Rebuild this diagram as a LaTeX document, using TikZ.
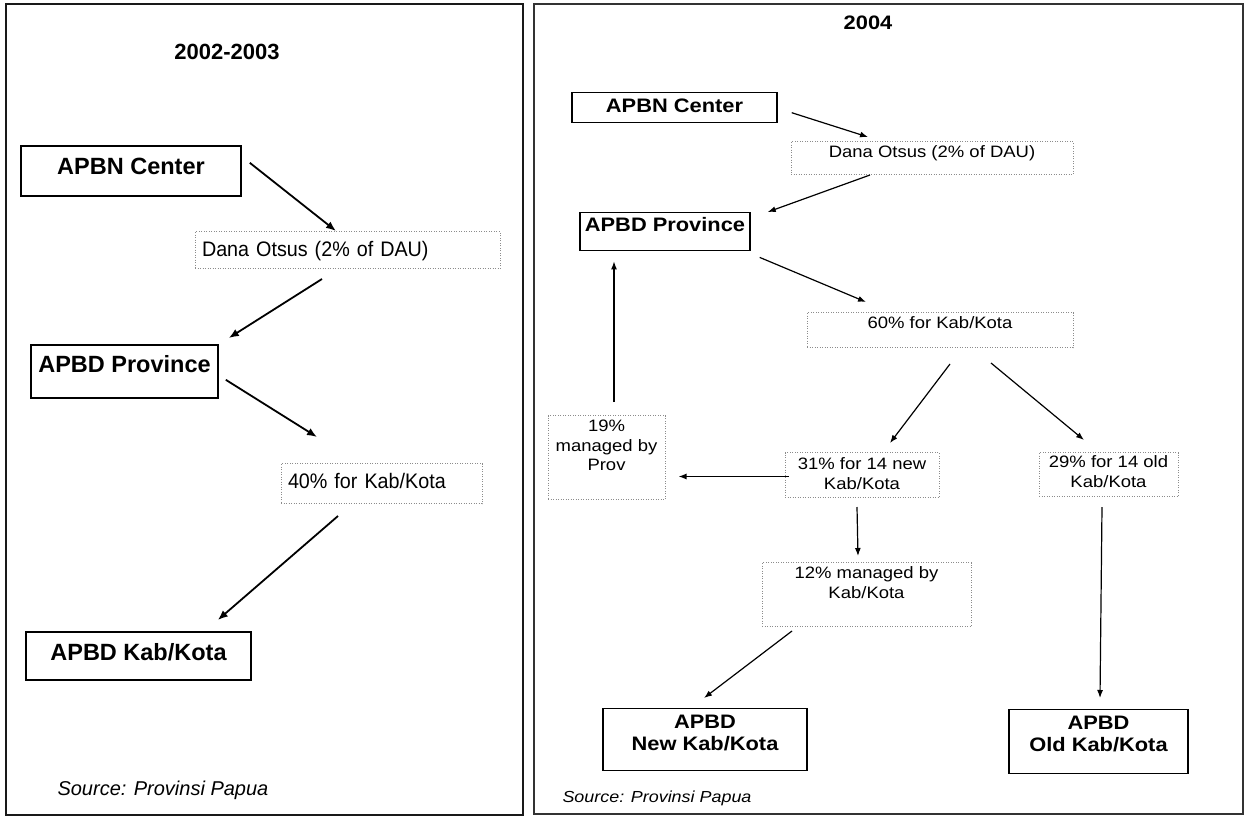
\documentclass[tikz,border=0pt]{standalone}
\usepackage{fontspec}
\setmainfont{Liberation Sans}
\newfontfamily\widesans[FakeStretch=1.12]{Liberation Sans}
\newfontfamily\narrowsans[FakeStretch=0.94]{Liberation Sans}
\usetikzlibrary{arrows.meta}

\tikzset{
  box/.style={draw=black, line width=1.6pt, anchor=north, inner sep=0pt,
    font=\bfseries\fontsize{23.5}{26}\selectfont},
  note/.style={draw=black!45, dash pattern=on 1pt off 1.5pt, line width=1pt,
    anchor=north, inner ysep=0pt, inner xsep=7pt, align=left,
    font=\narrowsans\fontsize{21}{24}\selectfont},
  wbox/.style={draw=black, line width=1.4pt, anchor=north, inner sep=0pt,
    align=center, font=\widesans\bfseries\fontsize{19.5}{22}\selectfont},
  wnote/.style={draw=black!45, dash pattern=on 1pt off 1.5pt, line width=1pt,
    anchor=north, inner sep=0pt, align=center,
    font=\widesans\fontsize{16.5}{19.5}\selectfont},
  arr/.style={-{Latex[length=10pt,width=8pt]}, line width=1.8pt},
  warr/.style={-{Latex[length=8pt,width=6pt]}, line width=1.2pt}
}

\begin{document}
\begin{tikzpicture}[x=1pt,y=-1pt]

  \useasboundingbox (0,0) rectangle (1248,817);

  % Frames
  \draw[line width=2pt, black!90] (6,4) rectangle (523,815);
  \draw[line width=1.3pt, black!80] (534,4) rectangle (1243,814);

  % Define nodes (2002-2003)
  \node (title1) at (227,52) {\bfseries\fontsize{22}{24}\selectfont 2002-2003};
  \node[box, minimum width=220pt, text height=28.4pt, text depth=21.6pt] (cen1) at (131,145) {APBN Center};
  \node[note, text width=291pt, text height=24.5pt, text depth=12.5pt] (otsus1) at (347.5,231) {Dana Otsus (2\% of DAU)};
  \node[box, minimum width=187pt, text height=27.4pt, text depth=25.6pt] (prov1) at (124.5,344) {APBD Province};
  \node[note, text width=187pt, text height=24.5pt, text depth=15.5pt] (kab40) at (381.5,463) {40\% for Kab/Kota};
  \node[box, minimum width=225pt, text height=28.4pt, text depth=19.6pt] (kab1) at (138.5,631) {APBD Kab/Kota};
  \node[anchor=west, font=\itshape\fontsize{20}{22}\selectfont] (src1) at (54,790) {Source: Provinsi Papua};

  % Define nodes (2004)
  \node[font=\widesans\bfseries\fontsize{19.5}{22}\selectfont] (title2) at (868,23) {2004};
  \node[wbox, minimum width=205pt, text height=20pt, text depth=10pt] (cen2) at (674.5,92) {APBN Center};
  \node[wnote, minimum width=282pt, text height=16pt, text depth=17pt] (otsus2) at (932,141) {Dana Otsus (2\% of DAU)};
  \node[wbox, minimum width=170pt, text height=19pt, text depth=19pt] (prov2) at (665,212) {APBD Province};
  \node[wnote, minimum width=266pt, text height=16pt, text depth=19pt] (kab60) at (940,312) {60\% for Kab/Kota};
  \node[wnote, minimum width=117pt, text height=55pt, text depth=29pt] (prov19) at (606.5,415) {19\%\\managed by\\Prov};
  \node[wnote, minimum width=154pt, text height=36.5pt, text depth=8.5pt] (new31) at (862,452) {31\% for 14 new\\Kab/Kota};
  \node[wnote, minimum width=139pt, text height=34.5pt, text depth=9.5pt] (old29) at (1108.5,452) {29\% for 14 old\\Kab/Kota};
  \node[wnote, minimum width=209pt, text height=35.5pt, text depth=28.5pt] (mng12) at (866.5,562) {12\% managed by\\Kab/Kota};
  \node[wbox, minimum width=204pt, text height=42pt, text depth=20pt] (new2) at (705,708) {APBD\\New Kab/Kota};
  \node[wbox, minimum width=179pt, text height=42pt, text depth=22pt] (old2) at (1098.5,709) {APBD\\Old Kab/Kota};
  \node[anchor=west, font=\widesans\itshape\fontsize{16}{19}\selectfont] (src2) at (559,798) {Source: Provinsi Papua};

  % Connect the nodes (2002-2003)
  \draw[arr] ([shift={(8,-8)}]cen1.east) -- ([shift={(-11.5,0)}]otsus1.north);
  \draw[arr] ([shift={(-25.5,10)}]otsus1.south) -- ([shift={(10,-6)}]prov1.north east);
  \draw[arr] ([shift={(7,8.5)}]prov1.east) -- ([shift={(-64.5,-26)}]kab40.north);
  \draw[arr] ([shift={(-43.5,12)}]kab40.south) -- ([shift={(-34,-11)}]kab1.north east);

  % Connect the nodes (2004)
  \draw[warr] ([shift={(14,5)}]cen2.east) -- ([shift={(-64,-4)}]otsus2.north);
  \draw[warr] ([shift={(-62,0)}]otsus2.south) -- ([shift={(17,0)}]prov2.north east);
  \draw[warr] ([shift={(9,6)}]prov2.south east) -- ([shift={(-74,-10)}]kab60.north);
  \draw[warr] ([shift={(10,16)}]kab60.south) -- ([shift={(28,-9)}]new31.north);
  \draw[warr] ([shift={(51,15)}]kab60.south) -- ([shift={(-24.5,-12)}]old29.north);
  \draw[warr] ([shift={(4,1.5)}]new31.west) -- ([shift={(13,19)}]prov19.east);
  \draw[warr] ([shift={(7.5,-13)}]prov19.north) -- ([shift={(-51,10)}]prov2.south);
  \draw[warr] ([shift={(-5,9)}]new31.south) -- ([shift={(-8.5,-6)}]mng12.north);
  \draw[warr] ([shift={(-74.5,4)}]mng12.south) -- ([shift={(-1,-10)}]new2.north);
  \draw[warr] ([shift={(-6.5,10)}]old29.south) -- ([shift={(1.5,-11)}]old2.north);

\end{tikzpicture}
\end{document}
